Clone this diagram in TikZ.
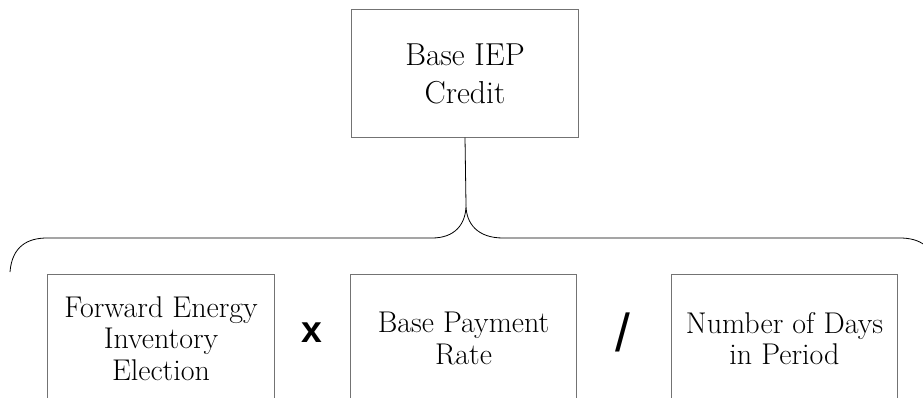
\documentclass[tikz,border=0pt]{standalone}
\usepackage{fontspec}
\newfontfamily\signfont{Liberation Sans}

\begin{document}
\begin{tikzpicture}[x=0.75pt, y=-0.75pt,
    termbox/.style={draw=black!55, line width=0.8pt, fill=white, align=center,
        minimum width=170pt, minimum height=95.5pt, inner sep=0pt,
        font=\fontsize{22.5pt}{23.5pt}\selectfont},
    opsign/.style={font=\signfont\bfseries\fontsize{28pt}{28pt}\selectfont, inner sep=0pt}]
    \useasboundingbox (0,0) rectangle (923,397);
    \clip (0,0) rectangle (923,397);

    % Draw the result box
    \node[termbox, font=\fontsize{23.8pt}{28.5pt}\selectfont] (credit) at (465,73.5) {Base IEP\\Credit};

    % Draw the factor boxes
    \node[termbox] (fei) at (161,338.5) {Forward Energy\\Inventory\\Election};
    \node[termbox] (rate) at (463.5,338.5) {Base Payment\\Rate};
    \node[termbox] (days) at (784.5,338.5) {Number of Days\\in Period};

    % Add operators
    \node[opsign] (times) at (312,333) {x};
    \node[opsign, font=\signfont\fontsize{40pt}{40pt}\selectfont] (div) at (622.5,332) {/};

    % Draw the brace
    \coordinate (tip) at (466,205);
    \draw[line width=0.6pt] (credit.south) -- (tip);
    \draw[line width=0.6pt] (10,272) .. controls (12,246) and (28,238) .. (47,238)
        -- (432,238) .. controls (455,238) and (466,224) .. (tip)
        .. controls (466,224) and (478,238) .. (503,238)
        -- (900,238) .. controls (919,238) and (935,246) .. (937,272);
\end{tikzpicture}
\end{document}
